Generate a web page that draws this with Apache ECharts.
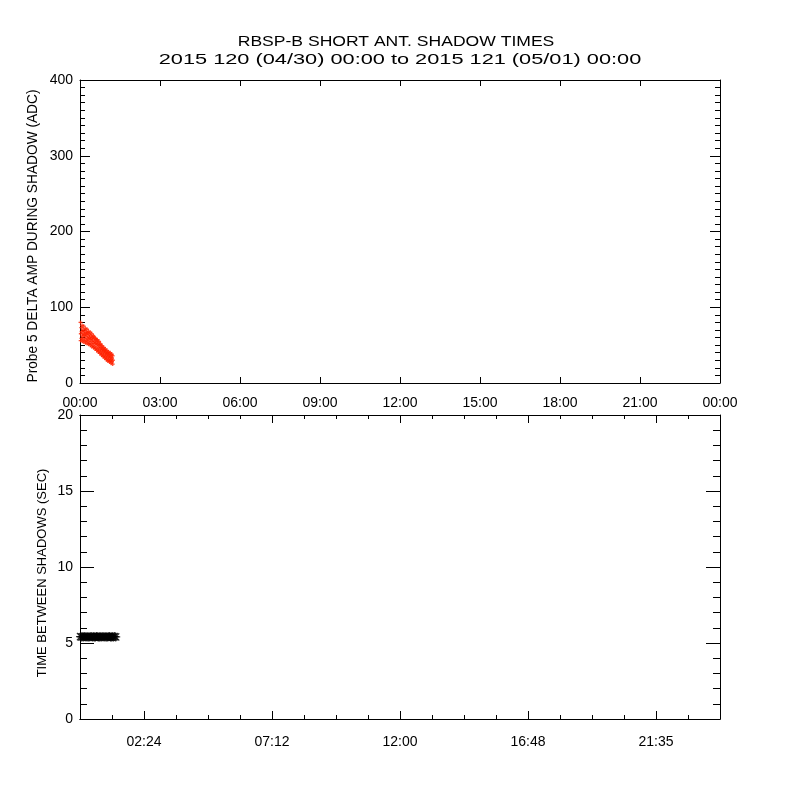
<!DOCTYPE html>
<html><head><meta charset="utf-8">
<script src="https://cdn.jsdelivr.net/npm/echarts@6/dist/echarts.min.js"></script>
<style>html,body{margin:0;padding:0;background:#fff}#c{width:800px;height:800px}</style>
</head><body><div id="c"></div>
<script>
// ---- text ----
const titleLine1 = 'RBSP-B SHORT ANT. SHADOW TIMES';
const titleLine2 = '2015 120 (04/30) 00:00 to 2015 121 (05/01) 00:00';
const topYTitle = 'Probe 5 DELTA AMP DURING SHADOW (ADC)';
const bottomYTitle = 'TIME BETWEEN SHADOWS (SEC)';

// ---- axis ticks ----
const topXTicksHours = [0, 3, 6, 9, 12, 15, 18, 21, 24];
const topXTickLabels = ['00:00', '03:00', '06:00', '09:00', '12:00', '15:00', '18:00', '21:00', '00:00'];
const bottomMajorHours = [2.4, 7.2, 12, 16.8, 21.6];
const bottomTickLabels = ['02:24', '07:12', '12:00', '16:48', '21:35'];
const bottomMinorHours = [1.2, 3.6, 4.8, 6.0, 8.4, 9.6, 10.8, 13.2, 14.4, 15.6, 18.0, 19.2, 20.4, 22.8];

// ---- top panel: delta amplitude (hours, ADC) ----
const redTime    = [0.02,0.05,0.08,0.11,0.14,0.17,0.20,0.23,0.26,0.29,0.32,0.35,0.38,0.41,0.44,0.47,0.50,0.53,0.56,0.59,0.62,0.65,0.68,0.71,0.74,0.77,0.80,0.83,0.86,0.89,0.92,0.95,0.98,1.01,1.04,1.07,1.10,1.13,1.16,1.19,1.22];
const redAmpHigh = [80,73,76,70,75,69,72,67,71,66,68,64,67,62,65,60,62,61,59,58,57,57,54,55,51,52,49,49,46,47,44,45,42,43,40,41,39,40,37,38,36];
const redAmpMid  = [65,68,62,66,63,64,61,65,59,62,58,60,57,59,55,57,53,55,52,53,50,51,47,49,45,46,43,44,41,42,39,40,37,38,35,36,33,34,31,33,30];
const redAmpLow  = [56,59,55,58,54,57,53,56,52,55,51,53,50,52,48,50,47,48,45,46,43,44,41,42,39,40,37,38,35,36,33,34,31,32,29,30,28,29,26,28,25];

// ---- bottom panel: time between shadows (hours, sec) ----
const blackTime = [0.02,0.06,0.10,0.14,0.18,0.22,0.26,0.30,0.34,0.38,0.42,0.46,0.50,0.54,0.58,0.62,0.66,0.70,0.74,0.78,0.82,0.86,0.90,0.94,0.98,1.02,1.06,1.10,1.14,1.18,1.22,1.26,1.30,1.34];
const blackGap  = [5.42,5.40,5.41,5.39,5.42,5.40,5.41,5.40,5.39,5.41,5.42,5.40,5.41,5.39,5.40,5.42,5.41,5.40,5.39,5.41,5.40,5.42,5.40,5.41,5.39,5.40,5.41,5.42,5.40,5.39,5.41,5.40,5.42,5.40];

const redData = [];
redTime.forEach((t, i) => { redData.push([t, redAmpHigh[i]], [t + 0.012, redAmpMid[i]], [t + 0.006, redAmpLow[i]]); });
const blackData = blackTime.map((t, i) => [t, blackGap[i]]);

const FONT = 'Liberation Sans';
const lbl = { color: '#000', fontFamily: FONT, fontSize: 14 };
const line = { show: true, onZero: false, lineStyle: { color: '#000', width: 1 } };

function topX(pos, labels) {
  return {
    type: 'value', gridIndex: 0, position: pos, min: 0, max: 24, interval: 3,
    axisLine: line, splitLine: { show: false },
    axisTick: { show: true, inside: true, length: 6, lineStyle: { color: '#000' } },
    axisLabel: labels ? Object.assign({ show: true, margin: 13, formatter: v => topXTickLabels[topXTicksHours.indexOf(v)] }, lbl) : { show: false }
  };
}
function botX(pos, vals, len, labels) {
  return {
    type: 'value', gridIndex: 1, position: pos, min: 0, max: 24,
    axisLine: line, splitLine: { show: false },
    axisTick: { show: true, inside: true, length: len, customValues: vals, lineStyle: { color: '#000' } },
    axisLabel: labels ? Object.assign({ show: true, margin: 16, customValues: bottomMajorHours,
      formatter: v => bottomTickLabels[bottomMajorHours.findIndex(h => Math.abs(h - v) < 1e-6)] }, lbl) : { show: false }
  };
}
function yAx(grid, pos, max, interval, major, minor, split, labels) {
  return {
    type: 'value', gridIndex: grid, position: pos, min: 0, max: max, interval: interval,
    axisLine: line, splitLine: { show: false },
    axisTick: { show: true, inside: true, length: major, lineStyle: { color: '#000' } },
    minorTick: { show: true, splitNumber: split, length: minor, lineStyle: { color: '#000' } },
    axisLabel: labels ? Object.assign({ show: true, margin: 7 }, lbl) : { show: false }
  };
}

const chart = echarts.init(document.getElementById('c'), null, { renderer: 'canvas' });
chart.setOption({
  backgroundColor: '#fff',
  animation: false,
  grid: [
    { left: 80, top: 80, width: 640, height: 303 },
    { left: 80, top: 415, width: 640, height: 304 }
  ],
  xAxis: [
    topX('bottom', true), topX('top', false),
    botX('bottom', bottomMajorHours, 8, true), botX('bottom', bottomMinorHours, 4, false),
    botX('top', bottomMajorHours, 8, false), botX('top', bottomMinorHours, 4, false)
  ],
  yAxis: [
    yAx(0, 'left', 400, 100, 10, 5, 10, true), yAx(0, 'right', 400, 100, 10, 5, 10, false),
    yAx(1, 'left', 20, 5, 14, 7, 5, true), yAx(1, 'right', 20, 5, 14, 7, 5, false)
  ],
  graphic: [
    { type: 'text', x: 396, y: 42, scaleX: 1.17, style: { text: titleLine1, font: '15px "Liberation Sans"', fill: '#000', textAlign: 'center', textVerticalAlign: 'middle' } },
    { type: 'text', x: 400, y: 60, scaleX: 1.5, style: { text: titleLine2, font: '14.5px "Liberation Sans"', fill: '#000', textAlign: 'center', textVerticalAlign: 'middle' } },
    { type: 'text', x: 33, y: 236, rotation: Math.PI / 2, scaleX: 0.98, style: { text: topYTitle, font: '14px "Liberation Sans"', fill: '#000', textAlign: 'center', textVerticalAlign: 'middle' } },
    { type: 'text', x: 42, y: 573, rotation: Math.PI / 2, style: { text: bottomYTitle, font: '13px "Liberation Sans"', fill: '#000', textAlign: 'center', textVerticalAlign: 'middle' } }
  ],
  series: [
    { type: 'scatter', xAxisIndex: 0, yAxisIndex: 0, data: redData,
      symbol: 'path://M1,0L2,0L2,1L3,1L3,2L2,2L2,3L1,3L1,2L0,2L0,1L1,1Z', symbolSize: 4,
      itemStyle: { color: '#ff2200' } },
    { type: 'scatter', xAxisIndex: 2, yAxisIndex: 2, data: blackData,
      symbol: 'path://M0,-5L0,5M-5,0L5,0M-4,-4L4,4M-4,4L4,-4', symbolSize: 9,
      itemStyle: { color: '#000', borderColor: '#000', borderWidth: 1.2 } }
  ]
});
</script></body></html>
